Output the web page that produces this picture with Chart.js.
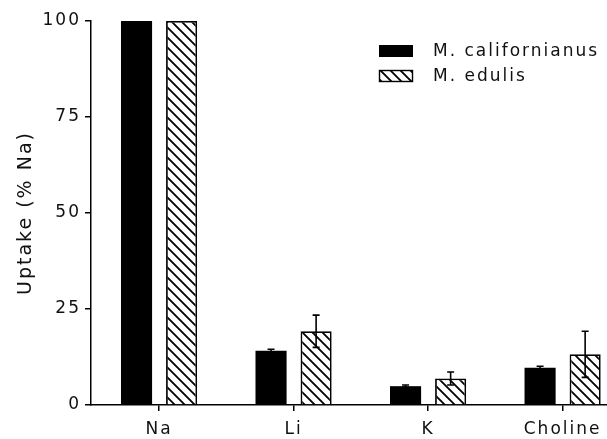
<!DOCTYPE html>
<html>
<head>
<meta charset="utf-8">
<script src="https://cdn.jsdelivr.net/npm/chart.js@4"></script>
<style>
html,body{margin:0;padding:0;background:#fff;}
#wrap{width:607px;height:439px;position:relative;}
</style>
</head>
<body>
<div id="wrap"><canvas id="c" width="607" height="439"></canvas></div>
<script>
const categories = ['Na', 'Li', 'K', 'Choline'];
const positions = [1, 2, 3, 4];
const seriesNames = ['M. californianus', 'M. edulis'];
const californianus = [100, 14.1, 4.9, 9.7];
const californianusErr = [0, 0.4, 0.3, 0.4];
const edulis = [100, 19.2, 6.9, 13.2];
const edulisErr = [0, 4.2, 1.7, 6.0];
const yTicks = [0, 25, 50, 75, 100];

const FONT = 'DejaVu Sans';

function makeHatch() {
  const s = 10;
  const c = document.createElement('canvas');
  c.width = s; c.height = s;
  const g = c.getContext('2d');
  g.fillStyle = '#fff';
  g.fillRect(0, 0, s, s);
  g.strokeStyle = '#000';
  g.lineWidth = 1.8;
  g.beginPath();
  g.moveTo(-2, -2); g.lineTo(s + 2, s + 2);
  g.moveTo(-2, s - 2); g.lineTo(2, s + 2);
  g.moveTo(s - 2, -2); g.lineTo(s + 2, 2);
  g.stroke();
  return g.createPattern(c, 'repeat');
}
const hatch = makeHatch();

const spacing = {
  id: 'spacing',
  beforeDraw(chart) { chart.ctx.letterSpacing = '2px'; }
};

const errorBars = {
  id: 'errorBars',
  afterDatasetsDraw(chart) {
    const ctx = chart.ctx;
    const ys = chart.scales.y;
    const errs = [californianusErr, edulisErr];
    const vals = [californianus, edulis];
    ctx.save();
    ctx.strokeStyle = '#000';
    ctx.lineWidth = 1.6;
    chart.data.datasets.forEach((ds, di) => {
      const meta = chart.getDatasetMeta(di);
      meta.data.forEach((bar, i) => {
        const e = errs[di][i];
        if (!e) return;
        const v = vals[di][i];
        const top = ys.getPixelForValue(v + e);
        const bot = ys.getPixelForValue(v - e);
        const x = bar.x;
        ctx.beginPath();
        ctx.moveTo(x, top); ctx.lineTo(x, bot);
        ctx.moveTo(x - 3.5, top); ctx.lineTo(x + 3.5, top);
        ctx.moveTo(x - 3.5, bot); ctx.lineTo(x + 3.5, bot);
        ctx.stroke();
      });
    });
    ctx.restore();
  }
};

const legendBoxes = {
  id: 'legendBoxes',
  afterDraw(chart) {
    const ctx = chart.ctx;
    const fills = ['#000', hatch];
    ctx.save();
    ctx.letterSpacing = '2px';
    ctx.font = '17px "' + FONT + '"';
    ctx.textBaseline = 'middle';
    seriesNames.forEach((name, i) => {
      const y = 45 + i * 25;
      ctx.fillStyle = fills[i];
      ctx.fillRect(379, y, 34, 12);
      if (i === 1) {
        ctx.strokeStyle = '#000';
        ctx.lineWidth = 1.4;
        ctx.strokeRect(379.5, y + 0.5, 33, 11);
      }
      ctx.fillStyle = '#111';
      ctx.fillText(name, 433, y + 7);
    });
    ctx.restore();
  }
};

new Chart(document.getElementById('c'), {
  type: 'bar',
  data: {
    datasets: [
      {
        label: seriesNames[0],
        data: positions.map((p, i) => ({ x: p, y: californianus[i] })),
        backgroundColor: '#000',
        borderColor: '#000',
        borderWidth: 0
      },
      {
        label: seriesNames[1],
        data: positions.map((p, i) => ({ x: p, y: edulis[i] })),
        backgroundColor: hatch,
        borderColor: '#000',
        borderWidth: 1.8
      }
    ]
  },
  options: {
    responsive: false,
    animation: false,
    devicePixelRatio: 1,
    layout: { padding: { top: 21, right: 0, left: 0, bottom: 0 } },
    categoryPercentage: 0.67,
    barPercentage: 0.69,
    plugins: {
      legend: { display: false },
      tooltip: { enabled: false }
    },
    scales: {
      x: {
        type: 'linear',
        offset: false,
        min: 0.494,
        max: 4.33,
        afterBuildTicks(scale) {
          scale.ticks = positions.map(v => ({ value: v }));
        },
        afterFit(scale) { scale.height = 34; },
        ticks: {
          callback: (v) => categories[positions.indexOf(v)] || '',
          color: '#111',
          font: { family: FONT, size: 17 },
          padding: 8,
          maxRotation: 0,
          autoSkip: false
        },
        grid: {
          offset: false,
          drawOnChartArea: false,
          drawTicks: true,
          tickLength: 6,
          color: '#000',
          lineWidth: 1.5
        },
        border: { display: true, color: '#000', width: 1.5 }
      },
      y: {
        min: 0,
        max: 100,
        afterBuildTicks(scale) {
          scale.ticks = yTicks.map(v => ({ value: v }));
        },
        afterFit(scale) { scale.width = 91; },
        ticks: {
          color: '#111',
          font: { family: FONT, size: 17 },
          padding: 4
        },
        grid: {
          drawOnChartArea: false,
          drawTicks: true,
          tickLength: 6,
          color: '#000',
          lineWidth: 1.5
        },
        border: { display: true, color: '#000', width: 1.5 },
        title: {
          display: true,
          text: 'Uptake (% Na)',
          color: '#111',
          font: { family: FONT, size: 19 },
          padding: { top: 15, bottom: 0 }
        }
      }
    }
  },
  plugins: [spacing, errorBars, legendBoxes]
});
</script>
</body>
</html>
